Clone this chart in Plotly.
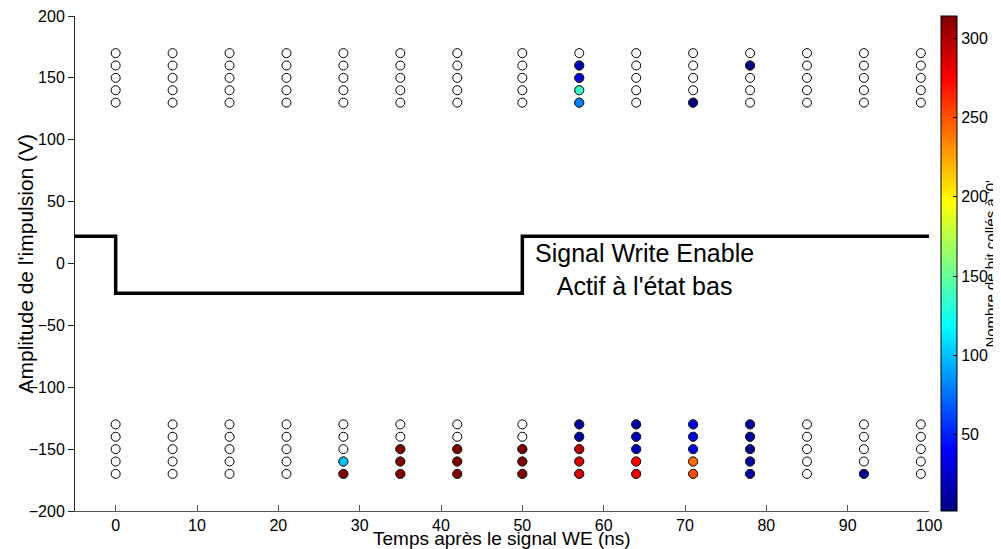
import plotly.graph_objects as go

# Times after the WE signal (ns) and pulse amplitudes (V)
times = [0, 7, 14, 21, 28, 35, 42, 50, 57, 64, 71, 78, 85, 92, 99]
top_amps = [130, 140, 150, 160, 170]
bottom_amps = [-130, -140, -150, -160, -170]

# Number of bits stuck at '0' (0 = none); rows follow the amplitude lists, columns follow times
counts_top = [
    [0, 0, 0, 0, 0, 0, 0, 0, 80, 0, 2, 0, 0, 0, 0],
    [0, 0, 0, 0, 0, 0, 0, 0, 135, 0, 0, 0, 0, 0, 0],
    [0, 0, 0, 0, 0, 0, 0, 0, 29, 0, 0, 0, 0, 0, 0],
    [0, 0, 0, 0, 0, 0, 0, 0, 18, 0, 0, 3, 0, 0, 0],
    [0, 0, 0, 0, 0, 0, 0, 0, 0, 0, 0, 0, 0, 0, 0],
]
counts_bottom = [
    [0, 0, 0, 0, 0, 0, 0, 0, 10, 12, 32, 10, 0, 0, 0],
    [0, 0, 0, 0, 0, 0, 0, 0, 12, 20, 32, 10, 0, 0, 0],
    [0, 0, 0, 0, 0, 314, 314, 314, 298, 20, 32, 7, 0, 0, 0],
    [0, 0, 0, 0, 100, 314, 314, 314, 287, 275, 243, 12, 0, 0, 0],
    [0, 0, 0, 0, 314, 314, 314, 314, 287, 280, 252, 12, 0, 6, 0],
]

# Write Enable signal (active low), drawn on the same axes
we_time = [-5, 0, 0, 50, 50, 100]
we_level = [22, 22, -24, -24, 22, 22]

jet = [
    [0.0, "rgb(0,0,128)"],
    [0.125, "rgb(0,0,255)"],
    [0.375, "rgb(0,255,255)"],
    [0.625, "rgb(255,255,0)"],
    [0.875, "rgb(255,0,0)"],
    [1.0, "rgb(128,0,0)"],
]

font = "Liberation Sans, Arial, sans-serif"

all_x, all_y, col_x, col_y, col_c = [], [], [], [], []
for amps, counts in [(top_amps, counts_top), (bottom_amps, counts_bottom)]:
    for i, amp in enumerate(amps):
        for j, t in enumerate(times):
            all_x.append(t)
            all_y.append(amp)
            if counts[i][j] > 0:
                col_x.append(t)
                col_y.append(amp)
                col_c.append(counts[i][j])

fig = go.Figure()

fig.add_trace(go.Scatter(
    x=we_time, y=we_level, mode="lines",
    line=dict(color="black", width=3.5), hoverinfo="skip"
))

fig.add_trace(go.Scatter(
    x=all_x, y=all_y, mode="markers",
    marker=dict(size=9, color="white", line=dict(color="black", width=1))
))

fig.add_trace(go.Scatter(
    x=col_x, y=col_y, mode="markers",
    marker=dict(
        size=9, color=col_c, colorscale=jet, cmin=2, cmax=314,
        line=dict(color="#222", width=1),
        showscale=True,
        colorbar=dict(
            x=1.014, xanchor="left", xpad=0, ypad=0,
            y=0.5, yanchor="middle", len=1, lenmode="fraction",
            thickness=16, thicknessmode="pixels",
            outlinecolor="black", outlinewidth=1,
            tickvals=[50, 100, 150, 200, 250, 300],
            ticks="inside", ticklen=4, tickcolor="black",
            tickfont=dict(family=font, size=16, color="black"),
        ),
    )
))

# the page adds an 8px body margin, so the figure is 8px smaller than the window
fig.update_layout(
    width=993, height=541,
    margin=dict(l=67, r=72, t=8, b=38, autoexpand=False),
    plot_bgcolor="white", paper_bgcolor="white",
    showlegend=False,
    font=dict(family=font, size=16, color="black"),
    annotations=[
        dict(text="Signal Write Enable<br>Actif à l'état bas", x=65, y=-5,
             xref="x", yref="y", showarrow=False,
             font=dict(size=25, family=font, color="black")),
        dict(text="Temps après le signal WE (ns)", x=0.5, y=-0.055,
             xref="paper", yref="paper", yanchor="middle", showarrow=False,
             font=dict(size=19, family=font, color="black")),
        dict(text="Amplitude de l'impulsion (V)", x=-0.0585, y=0.5,
             xref="paper", yref="paper", xanchor="center", textangle=-90,
             showarrow=False, font=dict(size=21, family=font, color="black")),
        dict(text="Nombre de bit collés à '0'", x=1.0715, y=0.5,
             xref="paper", yref="paper", xanchor="center", textangle=-90,
             showarrow=False, font=dict(size=15, family=font, color="black")),
    ],
)

fig.update_xaxes(
    range=[-5, 100], tickvals=list(range(0, 101, 10)),
    ticks="inside", ticklen=6, tickcolor="#555",
    showline=True, linecolor="#555", linewidth=1,
    showgrid=False, zeroline=False,
    ticklabeloverflow="allow", automargin=False,
)
fig.update_yaxes(
    range=[-200, 200], tickvals=list(range(-200, 201, 50)),
    ticks="outside", ticklen=6, tickcolor="#222",
    showline=True, linecolor="#222", linewidth=1,
    showgrid=False, zeroline=False,
    ticklabeloverflow="allow", automargin=False,
)

fig.write_html("out.html")
